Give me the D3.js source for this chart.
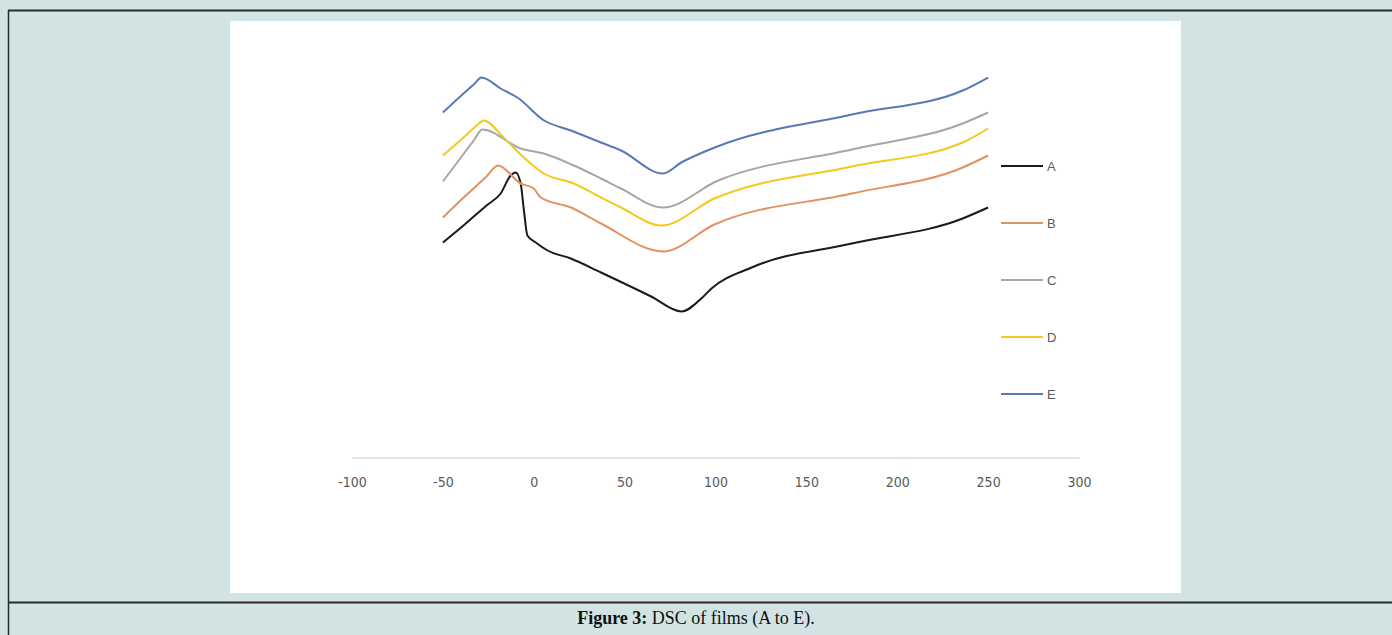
<!DOCTYPE html>
<html>
<head>
<meta charset="utf-8">
<script src="https://cdn.jsdelivr.net/npm/d3@7"></script>
<style>
  html, body { margin: 0; padding: 0; background: #d1e4e3; }
  svg { display: block; }
</style>
</head>
<body>
<div id="chart"></div>
<script>
// temperature ticks on the x axis
const xTicks = [-100, -50, 0, 50, 100, 150, 200, 250, 300];

// series: [temperature, heat flow (arbitrary units)]
const seriesA = [[-50, 21.5], [-38, 23.3], [-26, 25.2], [-18.2, 26.4], [-12.7, 28.2], [-9.9, 28.5], [-7.2, 27.4],
  [-5.4, 24.7], [-3.5, 22.2], [1.1, 21.5], [7.6, 20.7], [20.4, 19.9], [37, 18.5], [64.6, 16.1], [81.2, 14.6],
  [92.8, 16.0], [97.8, 16.9], [119.9, 19.0], [175, 21.4], [236, 23.9], [250, 25.0]];
const seriesB = [[-50, 24.0], [-38, 26.1], [-26, 28.1], [-19.7, 29.2], [-7.2, 27.4], [0, 26.9], [3.9, 26.0],
  [20.4, 25.0], [37, 23.4], [71.1, 20.6], [99.4, 23.3], [175, 26.4], [236, 29.0], [250, 30.2]];
const seriesC = [[-50, 27.6], [-38, 30.5], [-33, 31.7], [-28.3, 32.8], [-7.2, 30.9], [5.5, 30.4], [22.1, 29.2],
  [37, 27.9], [48, 26.9], [71.1, 25.0], [101.5, 27.7], [175, 30.8], [236, 33.4], [250, 34.5]];
const seriesD = [[-50, 30.2], [-38, 32.1], [-32, 33.1], [-27.5, 33.7], [-16.6, 32.0], [-5.5, 30.0], [5.5, 28.4],
  [22.1, 27.4], [37, 26.0], [48, 25.0], [70.2, 23.2], [99.4, 25.9], [175, 29.1], [236, 31.5], [250, 32.9]];
const seriesE = [[-50, 34.5], [-38, 36.5], [-33, 37.3], [-28.7, 38.0], [-18.2, 36.9], [-9.0, 36.0], [5.7, 33.7],
  [20.4, 32.7], [37, 31.5], [48, 30.7], [71.1, 28.4], [81.2, 29.5], [99.6, 31.0], [175, 34.3], [236, 36.7],
  [250, 38.0]];

const seriesNames = ['A', 'B', 'C', 'D', 'E'];
const seriesData = [seriesA, seriesB, seriesC, seriesD, seriesE];
const seriesColors = ['#1a1a1a', '#e3915e', '#a6a6a6', '#f4c91e', '#5878b8'];

const W = 1392, H = 635;

const svg = d3.select('#chart')
  .append('svg')
  .attr('width', W)
  .attr('height', H);

// page frame
svg.append('rect').attr('x', 0).attr('y', 0).attr('width', W).attr('height', H).attr('fill', '#d1e4e3');
svg.append('line').attr('x1', 8).attr('x2', W).attr('y1', 10.5).attr('y2', 10.5)
  .attr('stroke', '#2a2a2a').attr('stroke-width', 2);
svg.append('line').attr('x1', 8.5).attr('x2', 8.5).attr('y1', 10).attr('y2', H)
  .attr('stroke', '#2a2a2a').attr('stroke-width', 1.5);
svg.append('line').attr('x1', 8).attr('x2', W).attr('y1', 602.5).attr('y2', 602.5)
  .attr('stroke', '#2a2a2a').attr('stroke-width', 2);

// white picture area
svg.append('rect').attr('x', 230).attr('y', 21).attr('width', 951).attr('height', 572).attr('fill', '#fff');

// scales
const x = d3.scaleLinear().domain([-100, 300]).range([352, 1079]);
const y = d3.scaleLinear().domain([0, 40]).range([457.5, 57.5]);

// x axis
const xAxis = svg.append('g')
  .attr('transform', `translate(0,${y(0)})`)
  .call(d3.axisBottom(x).tickValues(xTicks).tickSize(0).tickPadding(20).tickFormat(d => String(d)));
xAxis.select('.domain').attr('stroke', '#d9d9d9').attr('stroke-width', 1.5);
xAxis.selectAll('text')
  .attr('fill', '#595959')
  .style('font-family', '"Liberation Sans Narrow", "DejaVu Sans Condensed", Arial, sans-serif')
  .style('font-size', '14px');

// lines
const line = d3.line()
  .x(d => x(d[0]))
  .y(d => y(d[1]))
  .curve(d3.curveMonotoneX);

svg.append('g')
  .selectAll('path')
  .data(seriesData)
  .enter()
  .append('path')
  .attr('fill', 'none')
  .attr('stroke', (d, i) => seriesColors[i])
  .attr('stroke-width', 2)
  .attr('stroke-linejoin', 'round')
  .attr('d', line);

// legend
const legend = svg.append('g').attr('transform', 'translate(1001,166)');
const item = legend.selectAll('g')
  .data(seriesNames)
  .enter()
  .append('g')
  .attr('transform', (d, i) => `translate(0,${i * 57})`);
item.append('line')
  .attr('x1', 0).attr('x2', 42)
  .attr('stroke', (d, i) => seriesColors[i])
  .attr('stroke-width', 2);
item.append('text')
  .attr('x', 46)
  .attr('dy', '0.35em')
  .attr('fill', '#595959')
  .style('font-family', '"Liberation Sans", Arial, sans-serif')
  .style('font-size', '13px')
  .text(d => d);

// caption
const caption = svg.append('text')
  .attr('x', 696)
  .attr('y', 624)
  .attr('text-anchor', 'middle')
  .attr('fill', '#111')
  .style('font-family', '"Liberation Serif", "DejaVu Serif", serif')
  .style('font-size', '18px');
caption.append('tspan').attr('font-weight', 'bold').text('Figure 3:');
caption.append('tspan').text(' DSC of films (A to E).');
</script>
</body>
</html>
